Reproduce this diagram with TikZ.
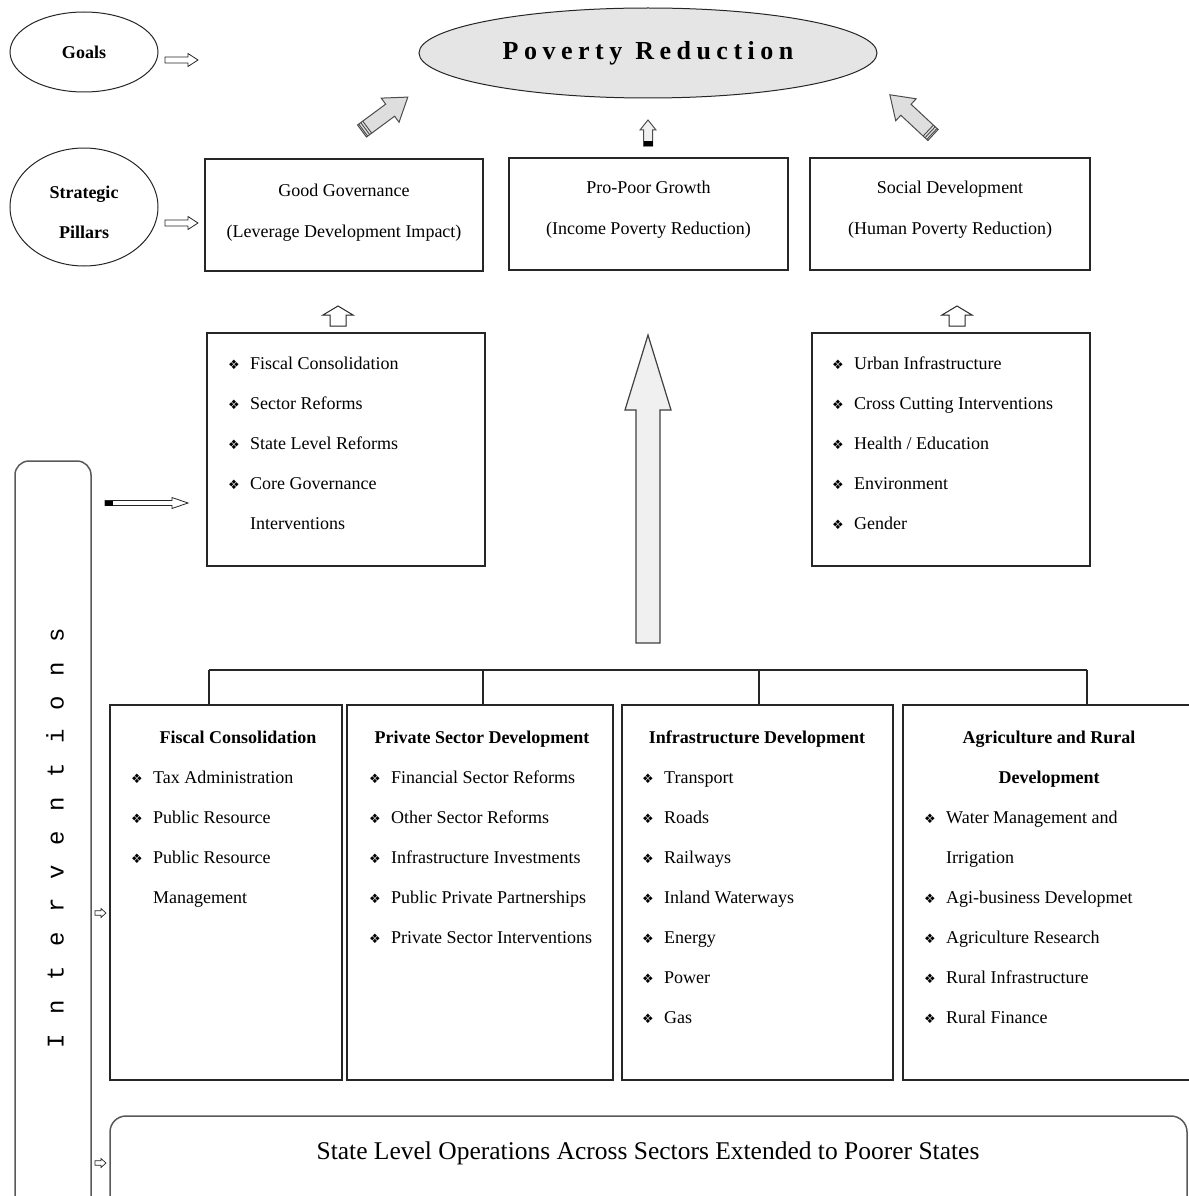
\documentclass[tikz,border=0pt]{standalone}
\usepackage{fontspec}
\setmainfont{Liberation Serif}
\newfontfamily\symfont{DejaVu Sans}
\newfontfamily\typefont{Liberation Mono}
\usetikzlibrary{shapes.geometric}

% bullet and hanging indent for list entries
\newcommand\bul{\makebox[22pt][l]{\symfont\fontsize{13}{13}\selectfont\raisebox{0.3pt}{❖}}}
\newcommand\cont{\hspace*{22pt}}
% letter spacing helpers
\newcommand\ik{\kern19.4pt}
\newcommand\pk{\kern5.5pt}

% block arrow: [style]{tail}{angle}{length}{shaft half width}{head half width}{head length}
\newcommand\blockarrow[7][]{%
  \begin{scope}[shift={#2},rotate=#3]
    \draw[#1] (0,-#5) -- ({#4-#7},-#5) -- ({#4-#7},-#6) -- (#4,0)
      -- ({#4-#7},#6) -- ({#4-#7},#5) -- (0,#5) -- cycle;
  \end{scope}}
% solid band at the tail of a block arrow: {tail}{angle}{half width}{band length}
\newcommand\tailband[4]{%
  \begin{scope}[shift={#1},rotate=#2]
    \fill[black] (0,-#3) rectangle (#4,#3);
  \end{scope}}
% striped tail of a block arrow: {tail}{angle}{half width}
\newcommand\tailstripes[3]{%
  \begin{scope}[shift={#1},rotate=#2]
    \foreach \s in {1.5,4,6.5} \draw[black!70,line width=0.9pt] (\s,-#3) -- (\s,#3);
  \end{scope}}

\tikzset{
  box/.style={draw=black!85, line width=1.1pt, inner sep=0pt},
  roundbox/.style={draw=black!65, line width=1.5pt, rounded corners=14pt, inner sep=0pt},
  oval/.style={ellipse, draw=black!85, line width=1pt, inner sep=0pt},
  body/.style={font=\fontsize{18}{40}\selectfont, inner sep=0pt},
  bodyc/.style={font=\fontsize{18}{41}\selectfont, inner sep=0pt, align=center, anchor=north},
  listtext/.style={body, align=left, anchor=north west},
  title/.style={font=\bfseries\fontsize{18}{40}\selectfont, inner sep=0pt, anchor=base},
  hollow/.style={draw=black!85, fill=white, line width=0.8pt},
  greyarrow/.style={draw=black!70, fill=black!13, line width=1pt},
  link/.style={draw=black!85, line width=1.1pt}
}

\begin{document}
\begin{tikzpicture}[x=1pt,y=-1pt]
\useasboundingbox (0,0) rectangle (1188,1196);

% ---------- goals and pillars labels ----------
\node[oval, minimum width=148, minimum height=80] (goals) at (84,52) {};
\node[title, anchor=center] (goalsT) at (84,52) {Goals};
\node[oval, minimum width=148, minimum height=118] (pillars) at (84,207) {};
\node[font=\bfseries\fontsize{18}{40}\selectfont, inner sep=0pt, align=center, anchor=north] (pillarsT) at (84,170) {\strut Strategic\\Pillars};

\blockarrow[hollow]{(165,60)}{0}{33}{3}{6.5}{10}
\blockarrow[hollow]{(165,223)}{0}{33}{3}{6.5}{10}

% ---------- goal ----------
\node[oval, fill=black!10, minimum width=458, minimum height=90] (poverty) at (648,53) {};
\node[font=\bfseries\fontsize{26}{30}\selectfont, inner sep=0pt] (povertyT) at (648,53)
  {P\pk o\pk v\pk e\pk r\pk t\pk y\kern13pt R\pk e\pk d\pk u\pk c\pk t\pk i\pk o\pk n};

% ---------- strategic pillars ----------
\node[box, minimum width=278, minimum height=112] (gg) at (344,215) {};
\node[bodyc] (ggT) at (344,167.8) {\strut Good Governance\\(Leverage Development Impact)};
\node[box, minimum width=279, minimum height=112] (ppg) at (648.5,214) {};
\node[bodyc] (ppgT) at (648.5,164.8) {\strut Pro-Poor Growth\\(Income Poverty Reduction)};
\node[box, minimum width=280, minimum height=112] (sd) at (950,214) {};
\node[bodyc] (sdT) at (950,164.8) {\strut Social Development\\(Human Poverty Reduction)};

% arrows from pillars to the goal
\blockarrow[greyarrow]{(362,131)}{36.5}{57}{7.5}{15}{22}
\tailstripes{(362,131)}{36.5}{7.5}
\blockarrow[greyarrow, fill=black!6]{(648,146)}{90}{26}{4.5}{8}{10}
\tailband{(648,146)}{90}{4.5}{5}
\blockarrow[greyarrow]{(933,135)}{137}{59}{7.5}{15}{22}
\tailstripes{(933,135)}{137}{7.5}

% ---------- pillar contents ----------
\node[box, minimum width=278, minimum height=233] (gglist) at (346,449.5) {};
\node[listtext] (gglistT) at (228,341.5) {\strut\bul Fiscal Consolidation\\
  \bul Sector Reforms\\ \bul State Level Reforms\\ \bul Core Governance\\ \cont Interventions};
\node[box, minimum width=278, minimum height=233] (sdlist) at (951,449.5) {};
\node[listtext] (sdlistT) at (832,341.5) {\strut\bul Urban Infrastructure\\
  \bul Cross Cutting Interventions\\ \bul Health / Education\\ \bul Environment\\ \bul Gender};

\blockarrow[hollow, line width=1pt]{(338,326)}{90}{20}{8}{15}{9}
\blockarrow[hollow, line width=1pt]{(957,326)}{90}{20}{8}{15}{9}

% big arrow from the sector interventions to growth
\blockarrow[draw=black!75, fill=black!6, line width=1.2pt]{(648,643)}{90}{308}{12}{23}{75}

% ---------- interventions ----------
\node[roundbox, minimum width=76, minimum height=769] (interv) at (53,845.5) {};
\node[rotate=90, font=\typefont\fontsize{24}{28}\selectfont, inner sep=0pt] (intervT) at (55,838)
  {I\ik n\ik t\ik e\ik r\ik v\ik e\ik n\ik t\ik i\ik o\ik n\ik s};

\blockarrow[hollow]{(105,503)}{0}{83}{2.5}{5.5}{16}
\tailband{(105,503)}{0}{2.5}{8}
\blockarrow[hollow, line width=0.7pt]{(95,913)}{0}{11}{2.2}{4.5}{5}
\blockarrow[hollow, line width=0.7pt]{(95,1163)}{0}{11}{2.2}{4.5}{5}

% sector boxes
\node[box, minimum width=232, minimum height=375] (b1) at (226,892.5) {};
\node[box, minimum width=266, minimum height=375] (b2) at (480,892.5) {};
\node[box, minimum width=271, minimum height=375] (b3) at (757.5,892.5) {};
\node[box, minimum width=297, minimum height=375] (b4) at (1051.5,892.5) {};

% tree joining the sector boxes
\coordinate (t1) at (209,670);
\coordinate (t2) at (483,670);
\coordinate (t3) at (759,670);
\coordinate (t4) at (1087,670);
\draw[link] (t1) -- (t4);
\draw[link] (t1) -- (t1 |- b1.north);
\draw[link] (t2) -- (t2 |- b2.north);
\draw[link] (t3) -- (t3 |- b3.north);
\draw[link] (t4) -- (t4 |- b4.north);

\node[title] (b1T) at (238,743.5) {Fiscal Consolidation};
\node[listtext] (b1L) at (131,755.5) {\strut\bul Tax Administration\\
  \bul Public Resource\\ \bul Public Resource\\ \cont Management};

\node[title] (b2T) at (482,743.5) {Private Sector Development};
\node[listtext] (b2L) at (369,755.5) {\strut\bul Financial Sector Reforms\\
  \bul Other Sector Reforms\\ \bul Infrastructure Investments\\
  \bul Public Private Partnerships\\ \bul Private Sector Interventions};

\node[title] (b3T) at (757,743.5) {Infrastructure Development};
\node[listtext] (b3L) at (642,755.5) {\strut\bul Transport\\ \bul Roads\\ \bul Railways\\
  \bul Inland Waterways\\ \bul Energy\\ \bul Power\\ \bul Gas};

\node[title] (b4T) at (1049,743.5) {Agriculture and Rural};
\node[title] (b4T2) at (1049,783.5) {Development};
\node[listtext] (b4L) at (924,795.5) {\strut\bul Water Management and\\ \cont Irrigation\\
  \bul Agi-business Developmet\\ \bul Agriculture Research\\
  \bul Rural Infrastructure\\ \bul Rural Finance};

% state level operations
\node[roundbox, rounded corners=16pt, minimum width=1077, minimum height=104] (state) at (648.5,1168) {};
\node[font=\fontsize{25.5}{30}\selectfont, inner sep=0pt] (stateT) at (648,1153)
  {State Level Operations Across Sectors Extended to Poorer States};
\end{tikzpicture}
\end{document}
